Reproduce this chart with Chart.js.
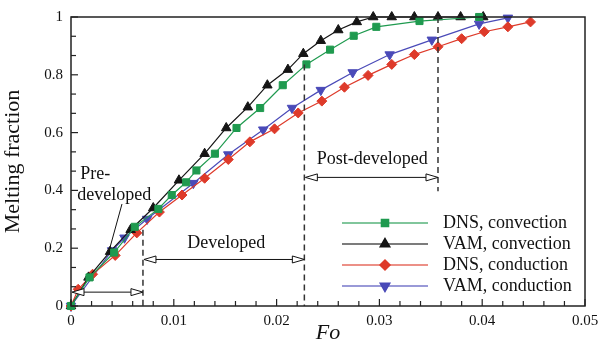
<!DOCTYPE html>
<html>
<head>
<meta charset="utf-8">
<script src="https://cdn.jsdelivr.net/npm/chart.js@4"></script>
<style>
  html, body { margin: 0; padding: 0; background: #fff; }
  #wrap { width: 600px; height: 346px; }
</style>
</head>
<body>
<div id="wrap"><canvas id="chart" width="600" height="346"></canvas></div>
<script>
//
// DATEN
//
const dnsConvFo  = [0, 0.0018, 0.0042, 0.0062, 0.0085, 0.0098, 0.0112, 0.0122, 0.0140, 0.0161, 0.0184, 0.0206, 0.0229, 0.0252, 0.0275, 0.0297, 0.0339, 0.0397];
const dnsConvMf  = [0, 0.099, 0.185, 0.274, 0.336, 0.384, 0.428, 0.469, 0.527, 0.616, 0.685, 0.764, 0.836, 0.887, 0.935, 0.966, 0.986, 1.0];

const vamConvFo  = [0, 0.0017, 0.0038, 0.0058, 0.0080, 0.0105, 0.0130, 0.0151, 0.0172, 0.0191, 0.0211, 0.0226, 0.0243, 0.0260, 0.0278, 0.0294, 0.0312, 0.0334, 0.0357, 0.0379, 0.0401];
const vamConvMf  = [0, 0.099, 0.188, 0.264, 0.339, 0.435, 0.527, 0.616, 0.688, 0.764, 0.818, 0.873, 0.918, 0.955, 0.983, 1.0, 1.0, 1.0, 1.0, 1.0, 1.0];

const dnsCondFo  = [0, 0.0007, 0.0021, 0.0043, 0.0064, 0.0086, 0.0108, 0.0130, 0.0153, 0.0174, 0.0198, 0.0221, 0.0244, 0.0266, 0.0289, 0.0312, 0.0334, 0.0357, 0.0380, 0.0402, 0.0425, 0.0447];
const dnsCondMf  = [0, 0.058, 0.110, 0.175, 0.253, 0.325, 0.384, 0.442, 0.507, 0.568, 0.613, 0.668, 0.709, 0.757, 0.798, 0.836, 0.870, 0.897, 0.925, 0.949, 0.966, 0.983];

const vamCondFo  = [0, 0.0040, 0.0052, 0.0074, 0.0119, 0.0153, 0.0187, 0.0215, 0.0243, 0.0274, 0.0310, 0.0351, 0.0397, 0.0425];
const vamCondMf  = [0, 0.192, 0.236, 0.301, 0.425, 0.524, 0.610, 0.685, 0.747, 0.808, 0.870, 0.921, 0.976, 0.997];

const seriesLabels = ["DNS, convection", "VAM, convection", "DNS, conduction", "VAM, conduction"];

// Grenzen der Phasen (Fo)
const stageBounds = [0.007, 0.0227, 0.0357];
const stageLabels = ["Pre-", "developed", "Developed", "Post-developed"];

const xTicks = [0, 0.01, 0.02, 0.03, 0.04, 0.05];
const yTicks = [0, 0.2, 0.4, 0.6, 0.8, 1];

const SERIF = "'Liberation Serif', 'DejaVu Serif', serif";

function toPoints(xs, ys) {
  return xs.map((x, i) => ({ x: x, y: ys[i] }));
}

//
// PLUGINS
//
// Rahmen + Ticks nach innen
const framePlugin = {
  id: "frame",
  afterDraw(chart) {
    const ctx = chart.ctx;
    const a = chart.chartArea;
    const xs = chart.scales.x;
    const ys = chart.scales.y;
    ctx.save();
    ctx.strokeStyle = "#222";
    ctx.lineWidth = 1.5;
    ctx.strokeRect(a.left, a.top, a.right - a.left, a.bottom - a.top);

    ctx.lineWidth = 1.2;
    // x ticks: alle 0.002
    for (let i = 0; i <= 25; i++) {
      const px = xs.getPixelForValue(i * 0.002);
      const len = (i % 5 === 0) ? 7 : 5;
      ctx.beginPath();
      ctx.moveTo(px, a.bottom);
      ctx.lineTo(px, a.bottom - len);
      ctx.stroke();
    }
    // y ticks: alle 0.2/3
    for (let i = 0; i <= 15; i++) {
      const py = ys.getPixelForValue(i * 0.2 / 3);
      const len = (i % 3 === 0) ? 7 : 5;
      ctx.beginPath();
      ctx.moveTo(a.left, py);
      ctx.lineTo(a.left + len, py);
      ctx.stroke();
    }
    ctx.restore();
  }
};

function openArrowHead(ctx, x, y, dir) {
  // dir = -1 links, +1 rechts
  const L = 12, H = 3.5;
  ctx.beginPath();
  ctx.moveTo(x, y);
  ctx.lineTo(x - dir * L, y - H);
  ctx.lineTo(x - dir * L, y + H);
  ctx.closePath();
  ctx.fillStyle = "#fff";
  ctx.fill();
  ctx.stroke();
}

function doubleArrow(ctx, x1, x2, y) {
  ctx.beginPath();
  ctx.moveTo(x1 + 10, y);
  ctx.lineTo(x2 - 10, y);
  ctx.stroke();
  openArrowHead(ctx, x1, y, -1);
  openArrowHead(ctx, x2, y, 1);
}

// Phasen-Annotationen
const stagePlugin = {
  id: "stages",
  afterDatasetsDraw(chart) {
    const ctx = chart.ctx;
    const xs = chart.scales.x;
    const ys = chart.scales.y;
    const X = v => xs.getPixelForValue(v);
    const Y = v => ys.getPixelForValue(v);
    ctx.save();
    ctx.strokeStyle = "#333";
    ctx.lineWidth = 1.5;

    // gestrichelte Linien
    ctx.setLineDash([6, 4]);
    const dashes = [[stageBounds[0], 0.264, 0], [stageBounds[1], 0.836, 0], [stageBounds[2], 1.0, 0.397]];
    dashes.forEach(d => {
      ctx.beginPath();
      ctx.moveTo(X(d[0]), Y(d[1]));
      ctx.lineTo(X(d[0]), Y(d[2]));
      ctx.stroke();
    });
    ctx.setLineDash([]);

    // Pfeile
    ctx.lineWidth = 1;
    ctx.strokeStyle = "#111";
    doubleArrow(ctx, X(0) + 1, X(stageBounds[0]), Y(0.048));
    doubleArrow(ctx, X(stageBounds[0]) + 1, X(stageBounds[1]), Y(0.161));
    doubleArrow(ctx, X(stageBounds[1]) + 1, X(stageBounds[2]), Y(0.445));

    // Hinweislinie
    ctx.beginPath();
    ctx.moveTo(X(0.00496), Y(0.353));
    ctx.lineTo(X(0.00379), Y(0.202));
    ctx.stroke();

    // Texte
    ctx.fillStyle = "#111";
    ctx.font = "18px " + SERIF;
    ctx.textBaseline = "alphabetic";
    ctx.textAlign = "left";
    ctx.fillText(stageLabels[0], X(0.0009), Y(0.44));
    ctx.fillText(stageLabels[1], X(0.0006), Y(0.366));
    ctx.textAlign = "center";
    ctx.textBaseline = "middle";
    ctx.fillText(stageLabels[2], X(0.0151), Y(0.216));
    ctx.fillText(stageLabels[3], X(0.0293), Y(0.507));
    ctx.restore();
  }
};

// Legende rechts unten
const legendPlugin = {
  id: "myLegend",
  afterDraw(chart) {
    const ctx = chart.ctx;
    const a = chart.chartArea;
    const x0 = a.left + 271, x1 = a.left + 357, tx = a.left + 372;
    const rows = [a.top + 206, a.top + 227, a.top + 248, a.top + 269];
    ctx.save();
    chart.data.datasets.forEach((ds, i) => {
      const y = rows[i];
      ctx.globalAlpha = 0.75;
      ctx.strokeStyle = ds.borderColor;
      ctx.lineWidth = 1.5;
      ctx.beginPath();
      ctx.moveTo(x0, y);
      ctx.lineTo(x1, y);
      ctx.stroke();
      ctx.globalAlpha = 1;
      Chart.helpers.drawPoint(ctx, {
        pointStyle: ds.pointStyle,
        rotation: ds.pointRotation || 0,
        radius: ds.pointRadius,
        borderWidth: 1
      }, (x0 + x1) / 2, y);
      ctx.fillStyle = ds.pointBackgroundColor;
      ctx.fill();
      ctx.fillStyle = "#111";
      ctx.font = "18px " + SERIF;
      ctx.textAlign = "left";
      ctx.textBaseline = "middle";
      ctx.fillText(ds.label, tx, y);
    });
    ctx.restore();
  }
};

//
// CHART
//
const green = "#1f9a4f";
const black = "#151515";
const red = "#de3a2a";
const blue = "#4a4ab8";

function makeSet(label, xs, ys, color, style, radius, rot) {
  return {
    label: label,
    data: toPoints(xs, ys),
    borderColor: color,
    backgroundColor: color,
    pointBackgroundColor: color,
    pointBorderColor: color,
    pointBorderWidth: 1,
    pointStyle: style,
    pointRotation: rot || 0,
    pointRadius: radius,
    borderWidth: 1.2,
    tension: 0,
    clip: false
  };
}

const ctx = document.getElementById("chart").getContext("2d");
new Chart(ctx, {
  type: "line",
  data: {
    datasets: [
      makeSet(seriesLabels[0], dnsConvFo, dnsConvMf, green, "rect", 5),
      makeSet(seriesLabels[1], vamConvFo, vamConvMf, black, "triangle", 5.5),
      makeSet(seriesLabels[2], dnsCondFo, dnsCondMf, red, "rectRot", 5),
      makeSet(seriesLabels[3], vamCondFo, vamCondMf, blue, "triangle", 5.5, 180)
    ]
  },
  options: {
    responsive: false,
    animation: false,
    devicePixelRatio: 1,
    layout: { padding: { top: 14, right: 0, left: 0, bottom: 0 } },
    plugins: {
      legend: { display: false },
      tooltip: { enabled: false }
    },
    scales: {
      x: {
        type: "linear",
        min: 0,
        max: 0.05,
        afterBuildTicks: s => { s.ticks = xTicks.map(v => ({ value: v })); },
        afterFit: s => { s.height = 40; s.paddingRight = 15; s.paddingLeft = 0; },
        grid: { display: false, drawTicks: false },
        border: { display: false },
        ticks: {
          padding: 6,
          color: "#111",
          font: { family: SERIF, size: 15 },
          callback: v => Number(v.toFixed(3)).toString()
        },
        title: {
          display: true,
          text: "Fo",
          color: "#111",
          padding: { top: -2, bottom: 0 },
          font: { family: SERIF, size: 22, style: "italic" }
        }
      },
      y: {
        type: "linear",
        min: 0,
        max: 1,
        afterBuildTicks: s => { s.ticks = yTicks.map(v => ({ value: v })); },
        afterFit: s => { s.width = 71; },
        grid: { display: false, drawTicks: false },
        border: { display: false },
        ticks: {
          padding: 8,
          color: "#111",
          font: { family: SERIF, size: 15 },
          callback: v => Number(v.toFixed(2)).toString()
        },
        title: {
          display: true,
          text: "Melting fraction",
          color: "#111",
          padding: { top: 0, bottom: 5 },
          font: { family: SERIF, size: 22 }
        }
      }
    }
  },
  plugins: [framePlugin, stagePlugin, legendPlugin]
});
</script>
</body>
</html>
